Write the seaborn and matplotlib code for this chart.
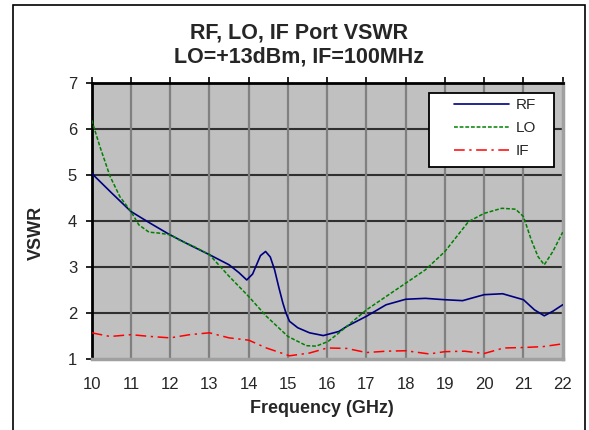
import matplotlib
matplotlib.use("Agg")
import matplotlib.pyplot as plt
import seaborn as sns
import pandas as pd
from matplotlib.patches import Rectangle

# ---- data ----
rf_freq = [10, 10.5, 11, 11.5, 12, 12.5, 13, 13.5, 13.75, 13.95, 14.1, 14.2, 14.3, 14.43, 14.55,
           14.66, 14.77, 14.87, 14.95, 15.04, 15.25, 15.55, 15.9, 16.3, 16.5, 17, 17.5, 18, 18.5,
           19, 19.45, 20, 20.47, 21, 21.28, 21.53, 21.75, 22]
rf_vswr = [5.04, 4.62, 4.21, 3.95, 3.70, 3.48, 3.27, 3.05, 2.88, 2.72, 2.85, 3.05, 3.25, 3.34, 3.22,
           2.94, 2.55, 2.22, 2.00, 1.82, 1.68, 1.57, 1.51, 1.60, 1.71, 1.93, 2.18, 2.30, 2.32,
           2.29, 2.27, 2.40, 2.42, 2.29, 2.07, 1.94, 2.04, 2.18]

lo_freq = [10, 10.21, 10.47, 10.72, 11, 11.2, 11.46, 11.72, 12.02, 12.23, 12.6, 13, 13.5, 14,
           14.45, 15, 15.47, 15.72, 16.02, 16.3, 16.5, 17, 17.5, 18, 18.5, 19, 19.6, 20, 20.45,
           20.8, 21, 21.2, 21.37, 21.53, 21.75, 22]
lo_vswr = [6.20, 5.62, 4.97, 4.53, 4.21, 3.92, 3.76, 3.74, 3.70, 3.59, 3.45, 3.27, 2.80, 2.36,
           1.93, 1.49, 1.29, 1.28, 1.38, 1.57, 1.71, 2.07, 2.36, 2.65, 2.94, 3.34, 3.99, 4.17, 4.28,
           4.26, 4.10, 3.59, 3.23, 3.05, 3.34, 3.76]

if_freq = [10, 10.47, 11, 11.5, 12, 12.5, 13, 13.5, 14, 14.45, 15.04, 15.55, 16, 16.5, 17, 17.5,
           18, 18.6, 19, 19.5, 20, 20.5, 21, 21.5, 22]
if_vswr = [1.57, 1.49, 1.53, 1.49, 1.46, 1.53, 1.57, 1.46, 1.41, 1.24, 1.07, 1.13, 1.24, 1.23,
           1.14, 1.17, 1.18, 1.11, 1.16, 1.17, 1.12, 1.24, 1.25, 1.27, 1.33]

x_ticks = list(range(10, 23))
y_ticks = list(range(1, 8))

title_text = "RF, LO, IF Port VSWR\nLO=+13dBm, IF=100MHz"
x_label = "Frequency (GHz)"
y_label = "VSWR"

# ---- styling ----
sns.set_style("white")
plt.rcParams['font.family'] = ['Liberation Sans', 'DejaVu Sans']

W, H = 589, 430
L, R, T, B = 91.7, 562.7, 83.3, 359.0
AW, AH = R - L, B - T

fig = plt.figure(figsize=(5.89, 4.30), dpi=100)
ax = fig.add_axes([L / W, 1 - B / H, AW / W, AH / H])
ax.set_facecolor("#C0C0C0")

df_rf = pd.DataFrame({"Frequency": rf_freq, "VSWR": rf_vswr})
df_lo = pd.DataFrame({"Frequency": lo_freq, "VSWR": lo_vswr})
df_if = pd.DataFrame({"Frequency": if_freq, "VSWR": if_vswr})

sns.lineplot(data=df_rf, x="Frequency", y="VSWR", ax=ax, color="#000080", lw=1.2,
             label="RF", sort=True, zorder=5)
sns.lineplot(data=df_lo, x="Frequency", y="VSWR", ax=ax, color="#008000", lw=1.1,
             label="LO", sort=True, zorder=5)
sns.lineplot(data=df_if, x="Frequency", y="VSWR", ax=ax, color="#FF0000", lw=1.1,
             label="IF", sort=True, zorder=5)
lines = ax.get_lines()
lines[1].set_dashes([2.5, 1.2])
lines[2].set_dashes([7, 3, 1.5, 3])

ax.set_xlim(10, 22)
ax.set_ylim(1, 7)
ax.set_xticks(x_ticks)
ax.set_yticks(y_ticks)

# grid
for v in y_ticks[1:-1]:
    ax.axhline(v, color="#303030", lw=1.5, zorder=1)
for f in x_ticks[1:-1]:
    ax.axvline(f, color="#808080", lw=1.6, zorder=1)

for s in ["left", "top"]:
    ax.spines[s].set_color("black")
    ax.spines[s].set_linewidth(2)
for s in ["right", "bottom"]:
    ax.spines[s].set_color("#A0A0A0")
    ax.spines[s].set_linewidth(2.5)

ax.tick_params(axis="x", which="both", top=True, bottom=False, labeltop=False, labelbottom=True,
               direction="out", length=4, width=1.2, color="black", labelsize=12, pad=9)
ax.tick_params(axis="y", left=True, direction="out", length=4, width=1.2, color="black",
               labelsize=12, pad=6.5)

ax.set_xlabel(x_label, fontsize=13, fontweight="bold")
ax.set_ylabel(y_label, fontsize=13, fontweight="bold")
ax.xaxis.set_label_coords((322 - L) / AW, -(400 - B) / AH)
ax.yaxis.set_label_coords(-(L - 45) / AW, (B - 233) / AH)

fig.text(299 / W, 1 - 45 / H, title_text, ha="center", va="center", fontsize=15.5,
         fontweight="bold", linespacing=1.25)

# legend box and entries
ax.add_patch(Rectangle(((429 - L) / AW, 1 - (167 - T) / AH), 125 / AW, 74 / AH,
                       transform=ax.transAxes, facecolor="white", edgecolor="black",
                       linewidth=1.3, zorder=9))
leg = ax.legend(loc="upper left", bbox_to_anchor=((454 - L) / AW, 1 - (98 - T) / AH),
                borderaxespad=0, frameon=False, fontsize=11, borderpad=0,
                handlelength=3.6, handletextpad=0.46, labelspacing=0.6)
leg.set_zorder(10)

# outer chart frame
fig.patches.append(Rectangle((13 / W, -0.05), (585 - 13) / W, 1.05 - 5 / H,
                             transform=fig.transFigure, fill=False, edgecolor="black",
                             linewidth=1.2))

fig.savefig("out.png", dpi=100)
